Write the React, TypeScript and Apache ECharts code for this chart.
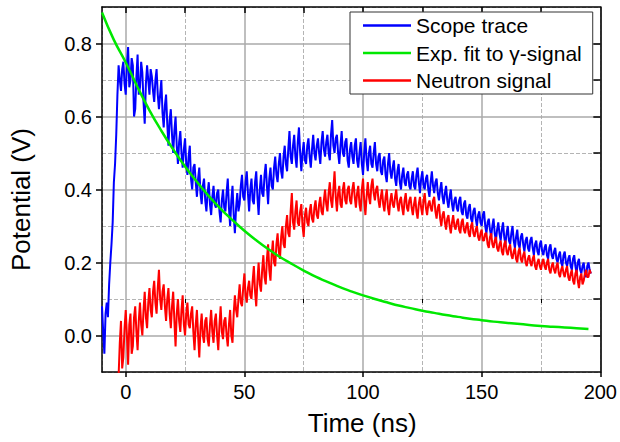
import React, { useEffect, useRef } from "react";
import * as echarts from "echarts";

// Tick labels / grid positions (axis values)
const xMajorTicks = [0, 50, 100, 150, 200];
const xMinorTicks = [25, 75, 125, 175];
const xTopTicks = [0, 25, 50, 75, 100, 125, 150, 175];
const yMajorTicks = [0, 0.2, 0.4, 0.6, 0.8];
const yRightTicks = [0, 0.1, 0.2, 0.3, 0.4, 0.5, 0.6, 0.7, 0.8];
// minor (dashed) grid lies half a major step after each major line
const xMinorOffset = 25;
const yMinorOffset = 0.1;

const seriesNames = ["Scope trace", "Exp. fit to γ-signal", "Neutron signal"];

// Scope trace, sampled every 0.5 ns starting at -10 ns
const scopeStart = -10;
const scopeStep = 0.5;
const scopeTrace = [
  0.08, 0.01, -0.05, 0.06, 0.09, 0.05, 0.14, 0.20, 0.25, 0.31, 0.42, 0.47, 0.55, 0.66, 0.74, 0.70, 0.67, 0.73, 0.75, 0.69,
  0.66, 0.74, 0.79, 0.68, 0.70, 0.76, 0.74, 0.60, 0.62, 0.71, 0.77, 0.66, 0.68, 0.75, 0.72, 0.64, 0.58, 0.69, 0.74, 0.70,
  0.66, 0.73, 0.71, 0.67, 0.64, 0.70, 0.73, 0.66, 0.62, 0.66, 0.70, 0.61, 0.57, 0.63, 0.66, 0.58, 0.52, 0.59, 0.62, 0.55,
  0.50, 0.56, 0.60, 0.52, 0.47, 0.53, 0.56, 0.50, 0.46, 0.51, 0.54, 0.47, 0.44, 0.49, 0.52, 0.43, 0.40, 0.46, 0.47, 0.42,
  0.38, 0.43, 0.46, 0.39, 0.36, 0.41, 0.43, 0.37, 0.34, 0.39, 0.42, 0.36, 0.33, 0.38, 0.41, 0.36, 0.35, 0.39, 0.40, 0.34,
  0.31, 0.37, 0.40, 0.35, 0.34, 0.39, 0.43, 0.35, 0.30, 0.37, 0.41, 0.33, 0.28, 0.35, 0.39, 0.34, 0.36, 0.41, 0.44, 0.38,
  0.37, 0.42, 0.45, 0.39, 0.34, 0.40, 0.43, 0.37, 0.36, 0.42, 0.45, 0.38, 0.33, 0.40, 0.44, 0.39, 0.38, 0.44, 0.47, 0.41,
  0.36, 0.43, 0.46, 0.41, 0.40, 0.46, 0.49, 0.44, 0.42, 0.47, 0.50, 0.45, 0.43, 0.49, 0.52, 0.47, 0.45, 0.51, 0.56, 0.49,
  0.47, 0.52, 0.55, 0.49, 0.46, 0.53, 0.57, 0.50, 0.45, 0.50, 0.53, 0.48, 0.47, 0.52, 0.54, 0.49, 0.46, 0.51, 0.55, 0.50,
  0.48, 0.52, 0.54, 0.50, 0.47, 0.53, 0.56, 0.51, 0.49, 0.53, 0.55, 0.50, 0.48, 0.55, 0.59, 0.52, 0.50, 0.54, 0.55, 0.50,
  0.47, 0.52, 0.56, 0.50, 0.49, 0.53, 0.54, 0.48, 0.46, 0.51, 0.53, 0.49, 0.47, 0.52, 0.54, 0.48, 0.46, 0.50, 0.53, 0.47,
  0.44, 0.50, 0.54, 0.48, 0.45, 0.50, 0.52, 0.47, 0.46, 0.50, 0.53, 0.47, 0.45, 0.49, 0.50, 0.45, 0.44, 0.48, 0.49, 0.44,
  0.42, 0.47, 0.50, 0.45, 0.43, 0.46, 0.48, 0.43, 0.41, 0.45, 0.47, 0.42, 0.40, 0.44, 0.46, 0.42, 0.41, 0.44, 0.45, 0.41,
  0.40, 0.43, 0.45, 0.41, 0.40, 0.44, 0.46, 0.42, 0.39, 0.43, 0.45, 0.41, 0.40, 0.43, 0.44, 0.40, 0.38, 0.42, 0.45, 0.41,
  0.39, 0.42, 0.43, 0.39, 0.37, 0.40, 0.42, 0.38, 0.36, 0.39, 0.41, 0.37, 0.35, 0.38, 0.40, 0.36, 0.34, 0.37, 0.38, 0.35,
  0.34, 0.37, 0.38, 0.34, 0.33, 0.36, 0.37, 0.33, 0.32, 0.35, 0.36, 0.32, 0.31, 0.34, 0.35, 0.32, 0.30, 0.33, 0.34, 0.31,
  0.30, 0.33, 0.34, 0.30, 0.28, 0.31, 0.32, 0.29, 0.27, 0.30, 0.32, 0.28, 0.26, 0.29, 0.31, 0.28, 0.26, 0.29, 0.31, 0.27,
  0.25, 0.28, 0.30, 0.26, 0.25, 0.28, 0.30, 0.26, 0.24, 0.27, 0.29, 0.25, 0.24, 0.27, 0.28, 0.25, 0.23, 0.26, 0.27, 0.24,
  0.23, 0.26, 0.27, 0.24, 0.22, 0.25, 0.26, 0.23, 0.22, 0.25, 0.26, 0.23, 0.22, 0.24, 0.25, 0.22, 0.21, 0.24, 0.25, 0.22,
  0.21, 0.23, 0.24, 0.21, 0.20, 0.22, 0.23, 0.20, 0.19, 0.22, 0.23, 0.20, 0.19, 0.21, 0.22, 0.19, 0.18, 0.21, 0.22, 0.19,
  0.17, 0.20, 0.21, 0.18, 0.17, 0.19, 0.20, 0.17, 0.16, 0.19, 0.20, 0.18, 0.17,
];

// Exponential fit, read every 5 ns starting at -10 ns
const fitStart = -10;
const fitStep = 5;
const expFit = [
  0.885, 0.81, 0.748, 0.68, 0.617, 0.561, 0.51, 0.463, 0.421, 0.382,
  0.347, 0.316, 0.287, 0.261, 0.237, 0.215, 0.196, 0.178, 0.161, 0.147,
  0.133, 0.121, 0.11, 0.1, 0.091, 0.082, 0.075, 0.068, 0.062, 0.056,
  0.051, 0.046, 0.042, 0.038, 0.035, 0.032, 0.029, 0.026, 0.024, 0.022,
  0.02, 0.018,
];

// Neutron signal, sampled every 0.5 ns starting at -3 ns
const neutronStart = -3;
const neutronStep = 0.5;
const neutronSignal = [
  -0.11, -0.02, 0.04, -0.09, -0.06, 0.02, 0.07, 0.00, -0.08, 0.03, 0.06, -0.05, -0.03, 0.05, 0.08, 0.01, -0.04, 0.04, 0.09, 0.03,
  0.00, 0.07, 0.12, 0.05, 0.02, 0.09, 0.13, 0.07, 0.05, 0.12, 0.15, 0.09, 0.06, 0.13, 0.18, 0.10, 0.07, 0.12, 0.14, 0.08,
  0.04, 0.10, 0.13, 0.06, 0.02, 0.08, 0.12, 0.04, -0.03, 0.06, 0.10, 0.04, 0.01, 0.07, 0.11, 0.03, 0.00, 0.06, 0.09, 0.03,
  0.02, 0.06, 0.08, 0.01, -0.04, 0.03, 0.07, 0.00, -0.06, 0.02, 0.06, 0.00, -0.02, 0.04, 0.05, -0.01, -0.03, 0.03, 0.07, 0.01,
  -0.02, 0.04, 0.06, 0.00, -0.04, 0.03, 0.08, 0.01, -0.01, 0.04, 0.05, 0.00, -0.03, 0.03, 0.07, 0.00, -0.02, 0.06, 0.11, 0.07,
  0.05, 0.10, 0.14, 0.09, 0.08, 0.13, 0.17, 0.11, 0.09, 0.13, 0.15, 0.11, 0.10, 0.15, 0.19, 0.12, 0.08, 0.15, 0.20, 0.14,
  0.12, 0.18, 0.22, 0.16, 0.14, 0.21, 0.25, 0.18, 0.15, 0.22, 0.26, 0.20, 0.19, 0.25, 0.28, 0.23, 0.21, 0.27, 0.30, 0.25,
  0.24, 0.30, 0.33, 0.28, 0.27, 0.34, 0.39, 0.31, 0.29, 0.34, 0.37, 0.31, 0.30, 0.34, 0.36, 0.30, 0.27, 0.33, 0.35, 0.31,
  0.30, 0.34, 0.36, 0.32, 0.31, 0.35, 0.37, 0.33, 0.32, 0.36, 0.38, 0.34, 0.33, 0.37, 0.40, 0.36, 0.34, 0.39, 0.42, 0.37,
  0.35, 0.40, 0.45, 0.38, 0.34, 0.39, 0.41, 0.36, 0.35, 0.40, 0.42, 0.37, 0.36, 0.40, 0.41, 0.37, 0.36, 0.40, 0.42, 0.38,
  0.35, 0.39, 0.41, 0.36, 0.34, 0.40, 0.43, 0.37, 0.33, 0.38, 0.42, 0.38, 0.36, 0.41, 0.43, 0.39, 0.37, 0.40, 0.41, 0.37,
  0.35, 0.38, 0.40, 0.36, 0.34, 0.38, 0.40, 0.35, 0.33, 0.37, 0.39, 0.36, 0.35, 0.38, 0.40, 0.36, 0.34, 0.37, 0.38, 0.35,
  0.33, 0.37, 0.39, 0.35, 0.34, 0.37, 0.38, 0.35, 0.33, 0.36, 0.38, 0.34, 0.32, 0.36, 0.38, 0.35, 0.33, 0.37, 0.39, 0.35,
  0.33, 0.36, 0.37, 0.35, 0.34, 0.37, 0.38, 0.34, 0.32, 0.35, 0.36, 0.32, 0.30, 0.33, 0.34, 0.31, 0.29, 0.32, 0.33, 0.30,
  0.28, 0.31, 0.33, 0.30, 0.29, 0.31, 0.32, 0.29, 0.28, 0.31, 0.32, 0.29, 0.28, 0.30, 0.31, 0.28, 0.27, 0.30, 0.31, 0.28,
  0.27, 0.29, 0.30, 0.27, 0.26, 0.28, 0.29, 0.26, 0.26, 0.28, 0.28, 0.25, 0.24, 0.27, 0.28, 0.25, 0.24, 0.26, 0.27, 0.24,
  0.23, 0.25, 0.26, 0.23, 0.22, 0.25, 0.26, 0.23, 0.22, 0.24, 0.25, 0.22, 0.21, 0.23, 0.24, 0.21, 0.20, 0.23, 0.24, 0.21,
  0.20, 0.22, 0.23, 0.20, 0.19, 0.21, 0.22, 0.20, 0.19, 0.21, 0.22, 0.19, 0.18, 0.20, 0.21, 0.19, 0.18, 0.20, 0.21, 0.19,
  0.18, 0.20, 0.21, 0.18, 0.17, 0.19, 0.20, 0.18, 0.17, 0.19, 0.20, 0.17, 0.16, 0.18, 0.19, 0.17, 0.16, 0.18, 0.19, 0.16,
  0.15, 0.17, 0.18, 0.15, 0.14, 0.17, 0.18, 0.15, 0.13, 0.16, 0.17, 0.14, 0.15, 0.17, 0.18, 0.16, 0.16, 0.18, 0.17,
];

const pairs = (start: number, step: number, vals: number[]) =>
  vals.map((v, i) => [start + i * step, v]);

const FONT = "'Liberation Sans', Arial, sans-serif";
const X_MIN = -10, X_MAX = 200, Y_MIN = -0.1, Y_MAX = 0.9;
const AXIS_LINE = { show: true, onZero: false, lineStyle: { color: "#000", width: 1.5 } };
const MINOR_SPLIT = { show: true, lineStyle: { color: "#b4b4b4", width: 1, type: "dashed" } };

export default function App() {
  const ref = useRef<HTMLDivElement>(null);
  useEffect(() => {
    if (!ref.current) return;
    const chart = echarts.init(ref.current, undefined, { renderer: "svg" });
    const option: any = {
      animation: false,
      textStyle: { fontFamily: FONT },
      grid: { left: 101, right: 18, top: 7, bottom: 70, containLabel: false },
      legend: {
        orient: "vertical",
        left: 350,
        top: 12,
        padding: [3, 11, 3, 13],
        itemWidth: 48,
        itemHeight: 2.5,
        itemGap: 6.5,
        icon: "rect",
        backgroundColor: "#fff",
        borderColor: "#333",
        borderWidth: 1,
        borderRadius: 0,
        data: seriesNames,
        textStyle: { fontSize: 21, color: "#000", fontFamily: FONT },
      },
      xAxis: [
        {
          type: "value", min: X_MIN, max: X_MAX, position: "bottom", z: 3,
          axisLine: AXIS_LINE,
          axisTick: { show: true, inside: false, length: 5, customValues: xMajorTicks, lineStyle: { color: "#000", width: 1.5 } },
          axisLabel: { show: true, customValues: xMajorTicks, fontSize: 20, color: "#000", margin: 10, fontFamily: FONT },
          splitLine: { show: true, lineStyle: { color: "#aaa", width: 1.5 } },
          name: "Time (ns)", nameLocation: "middle", nameGap: 38,
          nameTextStyle: { fontSize: 26, color: "#000", padding: [0, 0, 0, 22], fontFamily: FONT },
        },
        {
          // shifted copy of the time axis, used only for the dashed minor grid
          type: "value", min: X_MIN - xMinorOffset, max: X_MAX - xMinorOffset, splitNumber: 4,
          position: "bottom", z: 1, show: true,
          axisLine: { show: false },
          axisTick: { show: false },
          axisLabel: { show: false },
          splitLine: MINOR_SPLIT,
        },
        {
          type: "value", min: X_MIN, max: X_MAX, position: "bottom", z: 3,
          axisLine: { show: false },
          axisTick: { show: true, inside: false, length: 4, customValues: xMinorTicks, lineStyle: { color: "#000", width: 1 } },
          axisLabel: { show: false },
          splitLine: { show: false },
        },
        {
          type: "value", min: X_MIN, max: X_MAX, position: "top", z: 3,
          axisLine: AXIS_LINE,
          axisTick: { show: true, inside: true, length: 6, customValues: xTopTicks, lineStyle: { color: "#000", width: 1.5 } },
          axisLabel: { show: false },
          splitLine: { show: false },
        },
      ],
      yAxis: [
        {
          type: "value", min: Y_MIN, max: Y_MAX, position: "left", z: 3,
          axisLine: AXIS_LINE,
          axisTick: { show: true, inside: false, length: 6, customValues: yMajorTicks, lineStyle: { color: "#000", width: 1.5 } },
          axisLabel: {
            show: true, customValues: yMajorTicks, fontSize: 20, color: "#000", margin: 10, fontFamily: FONT,
            formatter: (v: number) => v.toFixed(1),
          },
          splitLine: { show: true, lineStyle: { color: "#aaa", width: 1.5 } },
          name: "Potential (V)", nameLocation: "middle", nameGap: 68,
          nameTextStyle: { fontSize: 26, color: "#000", padding: [0, 20, 0, 0], fontFamily: FONT },
        },
        {
          // shifted copy of the potential axis, used only for the dashed minor grid
          type: "value", min: Y_MIN - yMinorOffset, max: Y_MAX - yMinorOffset, splitNumber: 5,
          position: "left", z: 1, show: true,
          axisLine: { show: false },
          axisTick: { show: false },
          axisLabel: { show: false },
          splitLine: MINOR_SPLIT,
        },
        {
          type: "value", min: Y_MIN, max: Y_MAX, position: "right", z: 3,
          axisLine: AXIS_LINE,
          axisTick: { show: true, inside: true, length: 7, customValues: yRightTicks, lineStyle: { color: "#000", width: 1.5 } },
          axisLabel: { show: false },
          splitLine: { show: false },
        },
      ],
      series: [
        {
          name: seriesNames[0], type: "line", xAxisIndex: 0, yAxisIndex: 0,
          data: pairs(scopeStart, scopeStep, scopeTrace),
          symbol: "none", color: "#0000ff", lineStyle: { color: "#0000ff", width: 2 },
          z: 4,
        },
        {
          name: seriesNames[2], type: "line", xAxisIndex: 0, yAxisIndex: 0,
          data: pairs(neutronStart, neutronStep, neutronSignal),
          symbol: "none", color: "#ff0000", lineStyle: { color: "#ff0000", width: 2 },
          z: 5,
        },
        {
          name: seriesNames[1], type: "line", xAxisIndex: 0, yAxisIndex: 0,
          data: pairs(fitStart, fitStep, expFit), smooth: true,
          symbol: "none", color: "#00e800", lineStyle: { color: "#00e800", width: 2.5 },
          z: 6,
        },
      ],
    };
    chart.setOption(option);
    return () => chart.dispose();
  }, []);
  return <div ref={ref} style={{ width: 620, height: 442, position: "absolute", left: 0, top: 0 }} />;
}
